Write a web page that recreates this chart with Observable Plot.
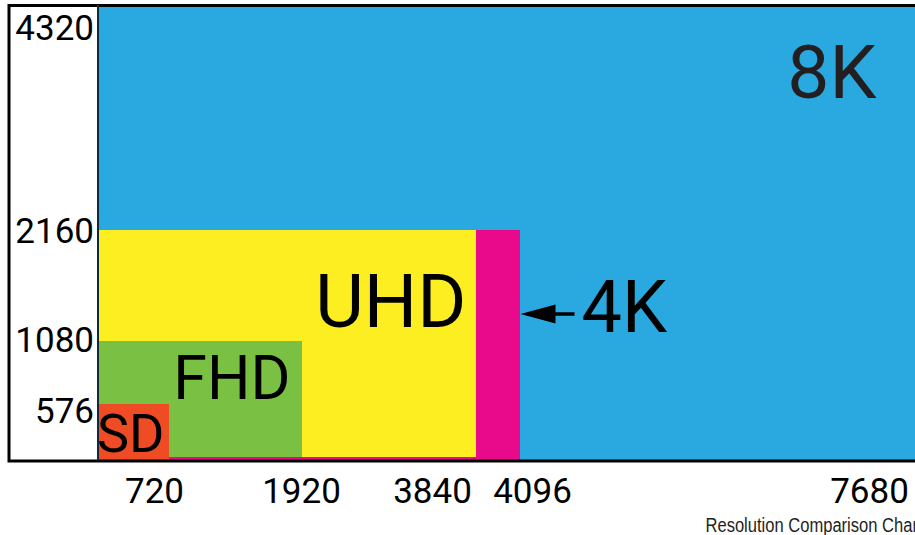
<!DOCTYPE html>
<html>
<head>
<meta charset="utf-8">
<script src="https://cdn.jsdelivr.net/npm/d3@7"></script>
<script src="https://cdn.jsdelivr.net/npm/@observablehq/plot@0.6"></script>
<style>
  html, body { margin: 0; padding: 0; background: #fff; overflow: hidden; }
  #chart svg { display: block; }
</style>
</head>
<body>
<div id="chart"></div>
<script>
// ---- data ----
const formats = ["8K", "4K", "UHD", "FHD", "SD"];
const widths  = [7680, 4096, 3840, 1920, 720];
const heights = [4320, 2160, 2160, 1080, 576];
const colors  = ["#2aa9e1", "#e90a8c", "#fcee21", "#79c043", "#ef4b24"];
const xTicks = [720, 1920, 3840, 4096, 7680];
const yTicks = [576, 1080, 2160, 4320];
const caption = "Resolution Comparison Chart";

const rects = formats.map((name, i) => ({name, w: widths[i], h: heights[i], color: colors[i]}));

// ---- style config (pixel nudges / sizes) ----
const labelStyle = {
  "8K":  {anchor: "end",   dx: -39, dy: 39, size: 75, fill: "#231f20"},
  "UHD": {anchor: "end",   dx: -10, dy: 43, size: 75, fill: "#000"},
  "FHD": {anchor: "end",   dx: -12, dy: 14, size: 61, fill: "#000"},
  "SD":  {anchor: "end",   dx: -5,  dy: 9,  size: 54, fill: "#000"},
  "4K":  {anchor: "start", dx: 61,  dy: 50, size: 72, fill: "#000"}
};
const xTickDx = {720: -15, 1920: -1, 3840: -44, 4096: 12, 7680: -46};
const yTickDy = {576: -6, 1080: -14, 2160: -12, 4320: 10};
const insetB = {"FHD": 3.5, "UHD": 3.5};
const FONT = "Roboto, 'Noto Sans', sans-serif";

// arrow glyph: tip at the origin, pointing left
const arrowSymbol = {
  draw(ctx) {
    ctx.moveTo(0, 0);
    ctx.lineTo(35, -9.5);
    ctx.lineTo(35, -1.7);
    ctx.lineTo(54, -1.7);
    ctx.lineTo(54, 1.7);
    ctx.lineTo(35, 1.7);
    ctx.lineTo(35, 9.5);
    ctx.closePath();
  }
};

const marks = [];
// rectangles (largest first)
rects.forEach(r => {
  marks.push(Plot.rect([r], {
    x1: 0, x2: "w", y1: 0, y2: "h",
    fill: "color", insetBottom: insetB[r.name] || 0
  }));
});
// frame and axis line
marks.push(Plot.frame({stroke: "#000", strokeWidth: 3, insetLeft: -89, insetRight: -6}));
marks.push(Plot.ruleX([0], {stroke: "#0e2a3c", strokeWidth: 2}));
// arrow pointing at 4K
marks.push(Plot.dot(rects.filter(r => r.name === "4K"), {
  x: "w", y: "h", dy: 83.5, symbol: arrowSymbol, fill: "#000", stroke: "none", r: 5
}));
// big labels
rects.forEach(r => {
  const s = labelStyle[r.name];
  marks.push(Plot.text([r], {
    x: "w", y: "h", text: "name", textAnchor: s.anchor, lineAnchor: "top",
    dx: s.dx, dy: s.dy, fontSize: s.size, fill: s.fill, fontFamily: FONT
  }));
});
// x tick labels
xTicks.forEach(t => {
  marks.push(Plot.text([t], {
    x: d => d, y: 0, text: d => String(d), lineAnchor: "top", textAnchor: "middle",
    dx: xTickDx[t], dy: 17.5, fontSize: 35, fill: "#000", fontFamily: FONT
  }));
});
// y tick labels
yTicks.forEach(t => {
  marks.push(Plot.text([t], {
    x: 0, y: d => d, text: d => String(d), lineAnchor: "top", textAnchor: "end",
    dx: -4, dy: yTickDy[t], fontSize: 35, fill: "#000", fontFamily: FONT
  }));
});
// caption
marks.push(Plot.text([caption], {
  frameAnchor: "bottom-right", text: d => d, textAnchor: "start", lineAnchor: "top",
  dx: -210, dy: 56.5, fontSize: 20, fill: "#231f20",
  fontFamily: "'Liberation Sans Narrow', 'Liberation Sans', sans-serif"
}));

const chart = Plot.plot({
  width: 915,
  height: 535,
  marginLeft: 97.5,
  marginRight: 0,
  marginTop: 5,
  marginBottom: 74.5,
  x: {type: "linear", domain: [0, 720, 1920, 3840, 4096, 7680], range: [97.5, 169, 302, 476, 520, 915], axis: null},
  y: {type: "linear", domain: [0, 576, 1080, 2160, 4320], range: [460.5, 404, 341, 230, 5], axis: null},
  style: {background: "#fff", overflow: "visible"},
  marks
});
// condense the caption like the original's narrow typeface
d3.select(chart).selectAll("text").filter(function() { return this.textContent === caption; })
  .attr("textLength", 217).attr("lengthAdjust", "spacingAndGlyphs");
document.getElementById("chart").appendChild(chart);
</script>
</body>
</html>
